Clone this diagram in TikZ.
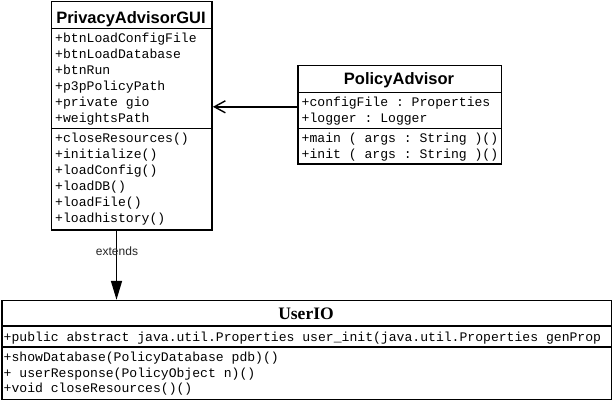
\documentclass[tikz,border=0pt]{standalone}
\usepackage{fontspec}
\setmainfont{Liberation Sans}
\setmonofont{Liberation Mono}
\newfontfamily\titlesans{Liberation Sans}
\newfontfamily\titleserif{Liberation Serif}
\usetikzlibrary{arrows.meta,calc}
\begin{document}
\begin{tikzpicture}[x=1pt,y=-1pt,
  box/.style={draw=black,line width=1.6pt,rectangle,anchor=north west,inner sep=0pt,fill=white},
  sep/.style={line width=1.6pt},
  ttl/.style={anchor=base,inner sep=0pt,font=\titlesans\bfseries\fontsize{16.5}{16.5}\selectfont},
  ttlserif/.style={anchor=base,inner sep=0pt,font=\titleserif\bfseries\fontsize{17.5}{17.5}\selectfont},
  mem/.style={anchor=base west,inner sep=0pt,font=\ttfamily\fontsize{13.1}{13.1}\selectfont},
  assoc/.style={line width=1.4pt,-{Straight Barb[length=11pt,width=12pt,line width=1.4pt]}},
  gen/.style={line width=1.6pt,-{Triangle[length=19pt,width=11pt]}},
  lbl/.style={inner sep=0pt,anchor=base,font=\fontsize{12}{12}\selectfont,text=black!85}
]
\useasboundingbox (0,0) rectangle (612,400);
\fill[white] (0,0) rectangle (612,400);

% PrivacyAdvisorGUI
\node[box,minimum width=160.5pt,minimum height=228.5pt] (gui) at (50.8,0.8) {};
\draw[sep] (50.8,28.5) -- (211.3,28.5);
\draw[sep] (50.8,128.5) -- (211.3,128.5);
\node[ttl] (guit) at (131,23) {PrivacyAdvisorGUI};
\node[mem] (g1) at (55,42.5) {+btnLoadConfigFile};
\node[mem] (g2) at (55,58.5) {+btnLoadDatabase};
\node[mem] (g3) at (55,74.5) {+btnRun};
\node[mem] (g4) at (55,90.5) {+p3pPolicyPath};
\node[mem] (g5) at (55,106.5) {+private gio};
\node[mem] (g6) at (55,122.5) {+weightsPath};
\node[mem] (g7) at (55,142) {+closeResources()};
\node[mem] (g8) at (55,158) {+initialize()};
\node[mem] (g9) at (55,174) {+loadConfig()};
\node[mem] (g10) at (55,190) {+loadDB()};
\node[mem] (g11) at (55,206) {+loadFile()};
\node[mem] (g12) at (55,222) {+loadhistory()};

% PolicyAdvisor
\node[box,minimum width=203.5pt,minimum height=98.5pt] (pa) at (297.3,64.5) {};
\draw[sep] (297.3,92.5) -- (500.8,92.5);
\draw[sep] (297.3,128.5) -- (500.8,128.5);
\node[ttl] (pat) at (399,84) {PolicyAdvisor};
\node[mem] (p1) at (301.5,106) {+configFile : Properties};
\node[mem] (p2) at (301.5,122) {+logger : Logger};
\node[mem] (p3) at (301.5,142.5) {+main ( args : String )()};
\node[mem] (p4) at (301.5,158.5) {+init ( args : String )()};

% UserIO
\node[box,minimum width=610pt,minimum height=99pt] (uio) at (1,299.8) {};
\draw[sep] (1,326) -- (611,326);
\draw[sep] (1,347) -- (611,347);
\node[ttlserif] (uiot) at (306,319.5) {UserIO};
\node[mem] (u1) at (3.5,341) {+public abstract java.util.Properties user\_init(java.util.Properties genProp};
\node[mem] (u2) at (3.5,361) {+showDatabase(PolicyDatabase pdb)()};
\node[mem] (u3) at (3.5,377) {+ userResponse(PolicyObject n)()};
\node[mem] (u4) at (3.5,392.5) {+void closeResources()()};

% connectors
\coordinate (paL) at ($(pa.north west)+(0,42.3)$);
\draw[assoc] (paL) -- (paL -| gui.east);
\coordinate (extS) at ($(gui.south west)+(65.7,0)$);
\draw[gen] (extS) -- (extS |- uio.north);
\node[lbl] (extl) at (117,255) {extends};
\end{tikzpicture}
\end{document}
